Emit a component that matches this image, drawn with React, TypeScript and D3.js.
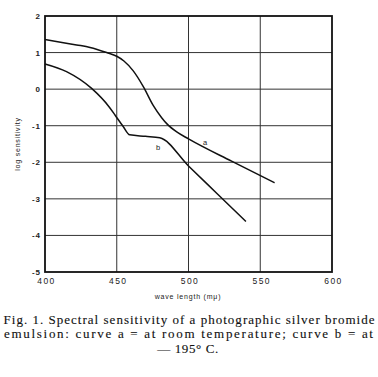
import React from "react";
import * as d3 from "d3";

const curveAWave = [400, 422, 431.4, 443, 450, 455, 461.5, 468.5, 475.5, 481.3, 485, 491.8, 500, 530, 560];
const curveALog = [1.36, 1.21, 1.14, 1.0, 0.9, 0.77, 0.5, 0.07, -0.45, -0.78, -0.95, -1.17, -1.36, -1.97, -2.56];
const curveBWave = [400, 415, 432.5, 445, 449, 454.6, 459, 470, 480, 500, 520, 540];
const curveBLog = [0.69, 0.48, 0.02, -0.5, -0.72, -1.03, -1.25, -1.29, -1.33, -2.1, -2.86, -3.62];
const xTicks = [400, 450, 500, 550, 600];
const yTicks = [2, 1, 0, -1, -2, -3, -4, -5];
const yTickLabels = ["2", "1", "0", "-1", "-2", "-3", "-4", "-5"];
const captionLines = [
  "Fig. 1. Spectral sensitivity of a photographic silver bromide",
  "emulsion: curve a = at room temperature; curve b = at",
  "\u2014 195\u00B0 C.",
];

export default function App() {
  const left = 45, right = 332, top = 16, bottom = 272;
  const x = d3.scaleLinear().domain([400, 600]).range([left, right]);
  const y = d3.scaleLinear().domain([-5, 2]).range([bottom, top]);
  const line = d3
    .line<[number, number]>()
    .x((d) => x(d[0]))
    .y((d) => y(d[1]))
    .curve(d3.curveMonotoneX);
  const a: [number, number][] = curveAWave.map((w, i) => [w, curveALog[i]]);
  const b: [number, number][] = curveBWave.map((w, i) => [w, curveBLog[i]]);
  const sans = "Liberation Sans, Arial, sans-serif";
  const serif = "Liberation Serif, Times New Roman, serif";
  return (
    <svg
      width={378}
      height={377}
      style={{ position: "absolute", left: 0, top: 0, background: "#fff" }}
    >
      {/* grid */}
      {yTicks.slice(1, -1).map((t) => (
        <line key={"gy" + t} x1={left} x2={right} y1={y(t)} y2={y(t)} stroke="#333" strokeWidth={1} />
      ))}
      {xTicks.slice(1, -1).map((t) => (
        <line key={"gx" + t} x1={x(t)} x2={x(t)} y1={top} y2={bottom} stroke="#333" strokeWidth={1} />
      ))}
      <rect x={left} y={top} width={right - left} height={bottom - top} fill="none" stroke="#111" strokeWidth={1.8} />
      {/* curves */}
      <path d={line(a) || ""} fill="none" stroke="#111" strokeWidth={1.5} />
      <path d={line(b) || ""} fill="none" stroke="#111" strokeWidth={1.5} />
      <text x={203} y={145} fontFamily={sans} fontSize={7.5} fill="#222">a</text>
      <text x={156} y={150} fontFamily={sans} fontSize={7.5} fill="#222">b</text>
      {/* y tick labels */}
      {yTicks.map((t, i) => (
        <text
          key={"yl" + t}
          x={41}
          y={y(t) + 3}
          textAnchor="end"
          fontFamily={sans}
          fontSize={8}
          fontWeight="bold"
          letterSpacing={1}
          fill="#222"
        >
          {yTickLabels[i]}
        </text>
      ))}
      {/* x tick labels */}
      {xTicks.map((t) => (
        <text
          key={"xl" + t}
          x={x(t) + 1.5}
          y={284}
          textAnchor="middle"
          fontFamily={sans}
          fontSize={8.5}
          letterSpacing={1.4}
          fill="#222"
        >
          {t}
        </text>
      ))}
      <text
        transform={`translate(20, ${(top + bottom) / 2}) rotate(-90)`}
        textAnchor="middle"
        fontFamily={sans}
        fontSize={7}
        letterSpacing={0.8}
        fill="#222"
      >
        log sensitivity
      </text>
      <text
        x={188}
        y={299}
        textAnchor="middle"
        fontFamily={sans}
        fontSize={7}
        letterSpacing={0.8}
        fill="#222"
      >
        wave length (mμ)
      </text>
      {/* caption */}
      <g fill="#111" stroke="#111" strokeWidth={0.12} fontFamily={serif} fontSize={13}>
        <text x={3.5} y={323.5} textLength={371} lengthAdjust="spacing">
          {captionLines[0]}
        </text>
        <text x={4} y={338} textLength={369} lengthAdjust="spacing">
          {captionLines[1]}
        </text>
        <text x={188} y={352.5} textAnchor="middle" letterSpacing={0.6}>
          {captionLines[2]}
        </text>
      </g>
    </svg>
  );
}
